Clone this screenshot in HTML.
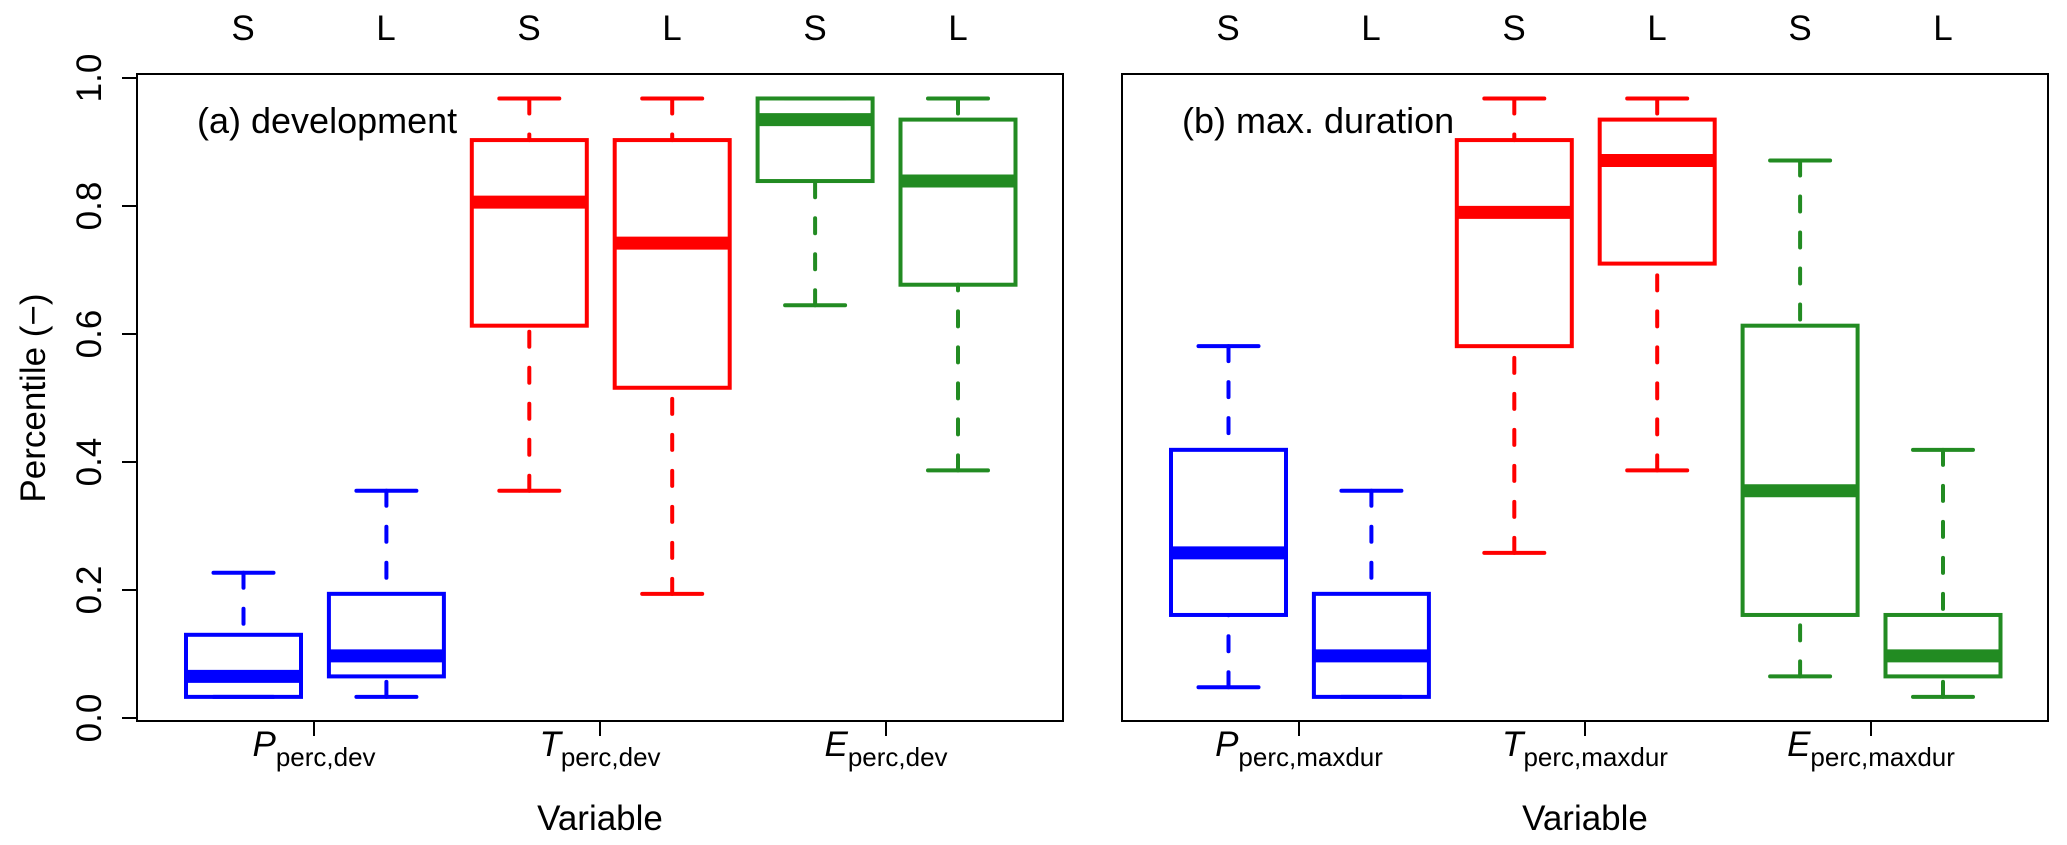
<!DOCTYPE html>
<html><head><meta charset="utf-8"><style>
html,body{margin:0;padding:0;background:#fff}
svg{display:block}
text{font-family:"Liberation Sans",Arial,sans-serif;fill:#000}
</style></head><body>
<svg id="s" width="2067" height="845" viewBox="0 0 2067 845" xmlns="http://www.w3.org/2000/svg">
<rect x="137" y="74" width="926" height="647" fill="none" stroke="#000" stroke-width="2"/>
<rect x="1122" y="74" width="926" height="647" fill="none" stroke="#000" stroke-width="2"/>
<g stroke="#000" stroke-width="2">
<line x1="137" y1="78" x2="137" y2="718"/>
<line x1="122" y1="78" x2="137" y2="78"/><line x1="122" y1="206" x2="137" y2="206"/>
<line x1="122" y1="334" x2="137" y2="334"/><line x1="122" y1="462" x2="137" y2="462"/>
<line x1="122" y1="590" x2="137" y2="590"/><line x1="122" y1="718" x2="137" y2="718"/>
<line x1="314" y1="721" x2="314" y2="736"/><line x1="600" y1="721" x2="600" y2="736"/><line x1="886" y1="721" x2="886" y2="736"/>
<line x1="1299" y1="721" x2="1299" y2="736"/><line x1="1585" y1="721" x2="1585" y2="736"/><line x1="1871" y1="721" x2="1871" y2="736"/>
</g>
<g font-size="35" text-anchor="middle">
<text transform="translate(101,78) rotate(-90)">1.0</text>
<text transform="translate(101,206) rotate(-90)">0.8</text>
<text transform="translate(101,334) rotate(-90)">0.6</text>
<text transform="translate(101,462) rotate(-90)">0.4</text>
<text transform="translate(101,590) rotate(-90)">0.2</text>
<text transform="translate(101,718) rotate(-90)">0.0</text>
<text transform="translate(45,398) rotate(-90)">Percentile (−)</text>
<text x="600" y="830">Variable</text>
<text x="1585" y="830">Variable</text>
</g>
<g font-size="35" text-anchor="middle">
<text x="243" y="40">S</text><text x="386" y="40">L</text>
<text x="529" y="40">S</text><text x="672" y="40">L</text>
<text x="815" y="40">S</text><text x="958" y="40">L</text>
<text x="1228" y="40">S</text><text x="1371" y="40">L</text>
<text x="1514" y="40">S</text><text x="1657" y="40">L</text>
<text x="1800" y="40">S</text><text x="1943" y="40">L</text>
</g>
<text x="197" y="133" font-size="36">(a) development</text>
<text x="1182" y="133" font-size="36">(b) max. duration</text>
<g font-size="35" text-anchor="middle">
<text x="314" y="756"><tspan font-style="italic">P</tspan><tspan font-size="26" dy="10">perc,dev</tspan></text>
<text x="600" y="756"><tspan font-style="italic">T</tspan><tspan font-size="26" dy="10">perc,dev</tspan></text>
<text x="886" y="756"><tspan font-style="italic">E</tspan><tspan font-size="26" dy="10">perc,dev</tspan></text>
<text x="1299" y="756"><tspan font-style="italic">P</tspan><tspan font-size="26" dy="10">perc,maxdur</tspan></text>
<text x="1585" y="756"><tspan font-style="italic">T</tspan><tspan font-size="26" dy="10">perc,maxdur</tspan></text>
<text x="1871" y="756"><tspan font-style="italic">E</tspan><tspan font-size="26" dy="10">perc,maxdur</tspan></text>
</g>
<g id="boxes"></g>
</svg>
<script>
var B="#0000ff",R="#ff0000",G="#228b22";
var data=[
[137,[[0.033,0.033,0.065,0.13,0.227,B],[0.033,0.065,0.097,0.194,0.355,B],[0.355,0.613,0.806,0.903,0.968,R],[0.194,0.516,0.742,0.903,0.968,R],[0.645,0.839,0.935,0.968,0.968,G],[0.387,0.677,0.839,0.935,0.968,G]]],
[1122,[[0.048,0.161,0.258,0.419,0.581,B],[0.033,0.033,0.097,0.194,0.355,B],[0.258,0.581,0.790,0.903,0.968,R],[0.387,0.710,0.871,0.935,0.968,R],[0.065,0.161,0.355,0.613,0.871,G],[0.033,0.065,0.097,0.161,0.419,G]]]];
function y(v){return 718-640*v}
var s="";
data.forEach(function(p){
 p[1].forEach(function(d,i){
  var cx=p[0]+106.5+i*142.9,c=d[5],w=57.5,cw=30;
  var a=y(d[0]),q1=y(d[1]),m=y(d[2]),q3=y(d[3]),b=y(d[4]);
  if(b<q3-1) s+='<line x1="'+cx+'" y1="'+b+'" x2="'+cx+'" y2="'+q3+'" stroke="'+c+'" stroke-width="4" stroke-dasharray="15 21" stroke-linecap="round"/>';
  if(a>q1+1) s+='<line x1="'+cx+'" y1="'+a+'" x2="'+cx+'" y2="'+q1+'" stroke="'+c+'" stroke-width="4" stroke-dasharray="15 21" stroke-linecap="round"/>';
  s+='<line x1="'+(cx-cw)+'" y1="'+b+'" x2="'+(cx+cw)+'" y2="'+b+'" stroke="'+c+'" stroke-width="4" stroke-linecap="round"/>';
  s+='<line x1="'+(cx-cw)+'" y1="'+a+'" x2="'+(cx+cw)+'" y2="'+a+'" stroke="'+c+'" stroke-width="4" stroke-linecap="round"/>';
  s+='<rect x="'+(cx-w)+'" y="'+q3+'" width="'+(2*w)+'" height="'+(q1-q3)+'" fill="none" stroke="'+c+'" stroke-width="4"/>';
  s+='<line x1="'+(cx-w)+'" y1="'+m+'" x2="'+(cx+w)+'" y2="'+m+'" stroke="'+c+'" stroke-width="13"/>';
 });
});
document.getElementById("boxes").innerHTML=s;
</script>
</body></html>
